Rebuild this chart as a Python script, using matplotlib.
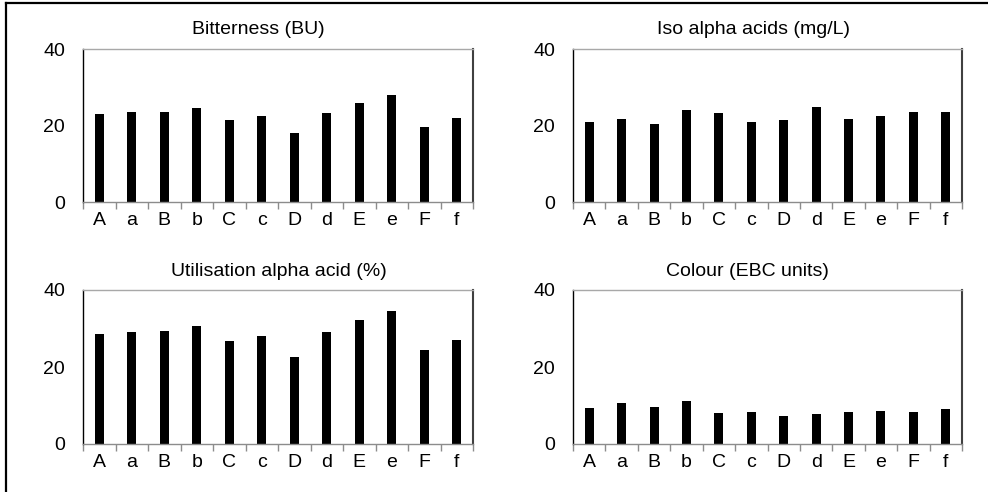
import matplotlib.pyplot as plt
import numpy as np
from matplotlib.lines import Line2D

plt.rcParams["font.family"] = ["Liberation Sans", "DejaVu Sans"]

categories = ["A", "a", "B", "b", "C", "c", "D", "d", "E", "e", "F", "f"]
bitterness = [23.1, 23.4, 23.6, 24.7, 21.5, 22.5, 18.0, 23.3, 25.8, 27.9, 19.7, 21.9]
iso_alpha = [21.0, 21.7, 20.5, 24.0, 23.3, 21.0, 21.4, 24.9, 21.7, 22.5, 23.4, 23.4]
utilisation = [28.7, 29.0, 29.4, 30.6, 26.8, 28.0, 22.5, 29.0, 32.1, 34.6, 24.4, 27.1]
colour = [9.4, 10.6, 9.7, 11.1, 8.1, 8.2, 7.4, 7.7, 8.2, 8.7, 8.4, 9.0]

panels = [
    ("Bitterness (BU)", bitterness, [83, 49, 473, 202], (258, 34)),
    ("Iso alpha acids (mg/L)", iso_alpha, [573, 49, 962, 202], (753, 34)),
    ("Utilisation alpha acid (%)", utilisation, [83, 290, 473, 444], (279, 276)),
    ("Colour (EBC units)", colour, [573, 290, 962, 444], (747, 276)),
]

W, H = 988, 492
fs = 14
fig = plt.figure(figsize=(W / 100, H / 100), dpi=100)

# frame lines on the top and left edge only (cropped figure)
fig.add_artist(Line2D([6 / W, 6 / W], [0, 1 - 3 / H], color="black", lw=1.6))
fig.add_artist(Line2D([6 / W, 1], [1 - 3 / H, 1 - 3 / H], color="black", lw=1.6))

x = np.arange(len(categories))
for title, values, (x0, y0, x1, y1), (tx, ty) in panels:
    ax = fig.add_axes([x0 / W, 1 - y1 / H, (x1 - x0) / W, (y1 - y0) / H])
    ax.bar(x, values, width=0.28, color="black")
    ax.set_xlim(-0.5, len(categories) - 0.5)
    ax.set_ylim(0, 40)
    ax.set_yticks([0, 20, 40])
    ax.tick_params(axis="y", length=0, pad=13, labelsize=fs)
    # tick marks at category boundaries, labels at centres
    ax.set_xticks(np.arange(-0.5, len(categories), 1.0))
    ax.set_xticklabels([])
    ax.tick_params(axis="x", which="major", direction="out", length=5, width=1, color="#8c8c8c")
    ax.set_xticks(x, minor=True)
    ax.set_xticklabels(categories, minor=True)
    ax.tick_params(axis="x", which="minor", length=0, pad=7, labelsize=fs)
    ax.spines["left"].set_color("black")
    ax.spines["left"].set_linewidth(1.0)
    ax.spines["top"].set_color("#a8a8a8")
    ax.spines["top"].set_linewidth(1.0)
    ax.spines["right"].set_color("#404040")
    ax.spines["right"].set_linewidth(1.5)
    ax.spines["bottom"].set_color("#8c8c8c")
    ax.spines["bottom"].set_linewidth(1.0)
    fig.text(tx / W, 1 - ty / H, title, ha="center", va="baseline", fontsize=fs)

fig.savefig("out.png", dpi=100)
